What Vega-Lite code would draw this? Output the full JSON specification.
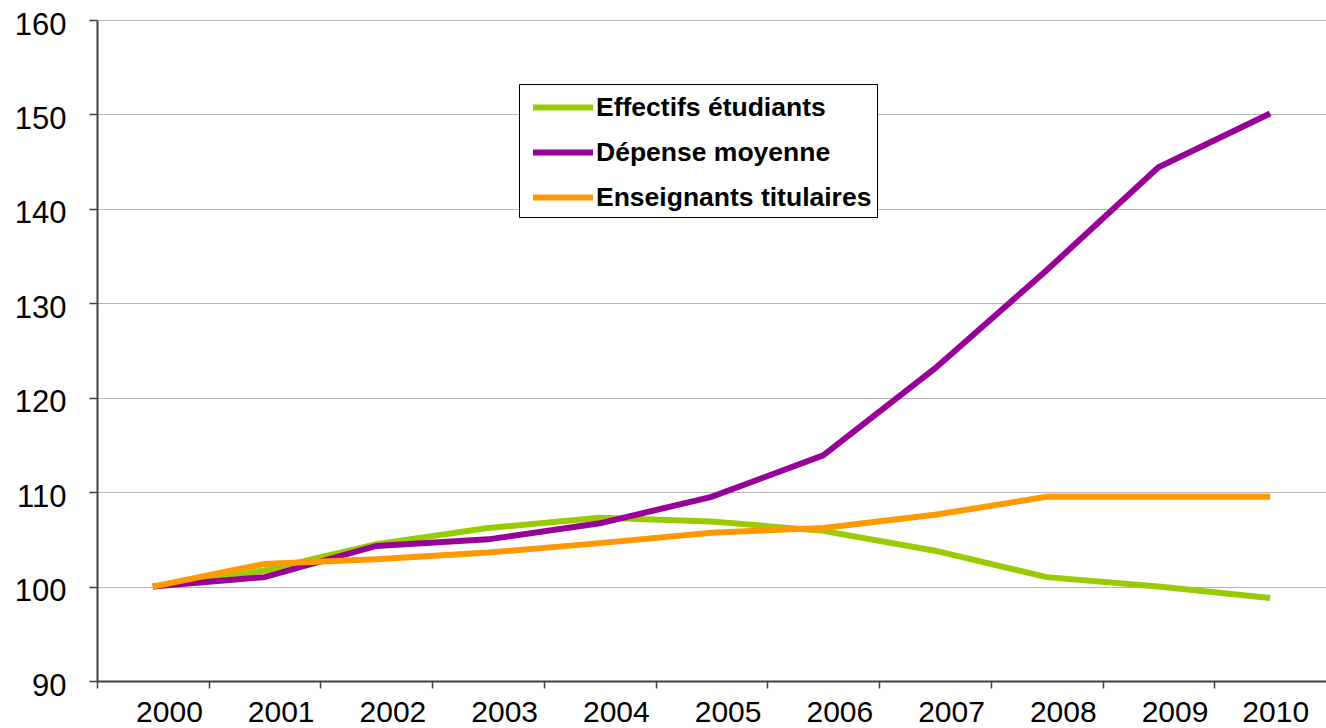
{
  "$schema": "https://vega.github.io/schema/vega-lite/v6.json",
  "width": 1229,
  "height": 661,
  "autosize": "none",
  "padding": {"left": 97, "top": 20, "right": 0, "bottom": 47},
  "background": "white",
  "config": {"view": {"stroke": null}},
  "data": {
    "values": [
      {"serie": "Effectifs étudiants", "year": 2000, "value": 100},
      {"serie": "Effectifs étudiants", "year": 2001, "value": 101.7},
      {"serie": "Effectifs étudiants", "year": 2002, "value": 104.5},
      {"serie": "Effectifs étudiants", "year": 2003, "value": 106.2},
      {"serie": "Effectifs étudiants", "year": 2004, "value": 107.3},
      {"serie": "Effectifs étudiants", "year": 2005, "value": 106.9},
      {"serie": "Effectifs étudiants", "year": 2006, "value": 105.9},
      {"serie": "Effectifs étudiants", "year": 2007, "value": 103.8},
      {"serie": "Effectifs étudiants", "year": 2008, "value": 101.0},
      {"serie": "Effectifs étudiants", "year": 2009, "value": 100.0},
      {"serie": "Effectifs étudiants", "year": 2010, "value": 98.8},
      {"serie": "Dépense moyenne", "year": 2000, "value": 100},
      {"serie": "Dépense moyenne", "year": 2001, "value": 101.0},
      {"serie": "Dépense moyenne", "year": 2002, "value": 104.3},
      {"serie": "Dépense moyenne", "year": 2003, "value": 105.0},
      {"serie": "Dépense moyenne", "year": 2004, "value": 106.7},
      {"serie": "Dépense moyenne", "year": 2005, "value": 109.5},
      {"serie": "Dépense moyenne", "year": 2006, "value": 113.9},
      {"serie": "Dépense moyenne", "year": 2007, "value": 123.1},
      {"serie": "Dépense moyenne", "year": 2008, "value": 133.5},
      {"serie": "Dépense moyenne", "year": 2009, "value": 144.4},
      {"serie": "Dépense moyenne", "year": 2010, "value": 150.1},
      {"serie": "Enseignants titulaires", "year": 2000, "value": 100},
      {"serie": "Enseignants titulaires", "year": 2001, "value": 102.4},
      {"serie": "Enseignants titulaires", "year": 2002, "value": 102.9},
      {"serie": "Enseignants titulaires", "year": 2003, "value": 103.6},
      {"serie": "Enseignants titulaires", "year": 2004, "value": 104.6},
      {"serie": "Enseignants titulaires", "year": 2005, "value": 105.7},
      {"serie": "Enseignants titulaires", "year": 2006, "value": 106.2},
      {"serie": "Enseignants titulaires", "year": 2007, "value": 107.6},
      {"serie": "Enseignants titulaires", "year": 2008, "value": 109.5},
      {"serie": "Enseignants titulaires", "year": 2009, "value": 109.5},
      {"serie": "Enseignants titulaires", "year": 2010, "value": 109.5}
    ]
  },
  "mark": {"type": "line", "strokeWidth": 6, "strokeCap": "butt", "strokeJoin": "miter"},
  "encoding": {
    "x": {
      "field": "year",
      "type": "quantitative",
      "scale": {"domain": [1999.5, 2010.5], "nice": false, "zero": false},
      "axis": {
        "title": null,
        "values": [2000, 2001, 2002, 2003, 2004, 2005, 2006, 2007, 2008, 2009, 2010],
        "format": "d",
        "grid": false,
        "tickOffset": -55.9,
        "labelOffset": {"condition": {"test": "datum.value == 2010", "value": 61}, "value": 72},
        "tickSize": 7,
        "tickColor": "#404040",
        "tickWidth": 1.5,
        "domainColor": "#404040",
        "domainWidth": 2,
        "labelPadding": 9,
        "labelFont": "Liberation Sans",
        "labelFontSize": 30,
        "labelColor": "black",
        "labelFlush": false,
        "labelOverlap": false
      }
    },
    "y": {
      "field": "value",
      "type": "quantitative",
      "scale": {"domain": [90, 160], "nice": false, "zero": false},
      "axis": {
        "title": null,
        "values": [90, 100, 110, 120, 130, 140, 150, 160],
        "grid": true,
        "gridColor": "#B4B4B4",
        "gridWidth": 1.2,
        "tickSize": 8,
        "tickColor": "#404040",
        "tickWidth": 1.5,
        "domainColor": "#404040",
        "domainWidth": 2,
        "labelPadding": 23,
        "labelOffset": 5,
        "labelFont": "Liberation Sans",
        "labelFontSize": 31,
        "labelColor": "black",
        "labelFlush": false,
        "labelOverlap": false
      }
    },
    "color": {
      "field": "serie",
      "type": "nominal",
      "sort": null,
      "scale": {
        "domain": ["Effectifs étudiants", "Dépense moyenne", "Enseignants titulaires"],
        "range": ["#99CC00", "#990099", "#FF9900"]
      },
      "legend": {
        "title": null,
        "orient": "none",
        "legendX": 422,
        "legendY": 64,
        "symbolType": "M-0.633,0H3.367",
        "symbolSize": 900,
        "symbolStrokeWidth": 6,
        "symbolFillColor": "transparent",
        "labelFont": "Liberation Sans",
        "labelFontSize": 26.5,
        "labelFontWeight": "bold",
        "labelColor": "black",
        "labelLimit": 0,
        "labelOffset": 35.5,
        "strokeColor": "#000000",
        "fillColor": "#ffffff",
        "padding": 5.5,
        "rowPadding": 13
      }
    }
  }
}
